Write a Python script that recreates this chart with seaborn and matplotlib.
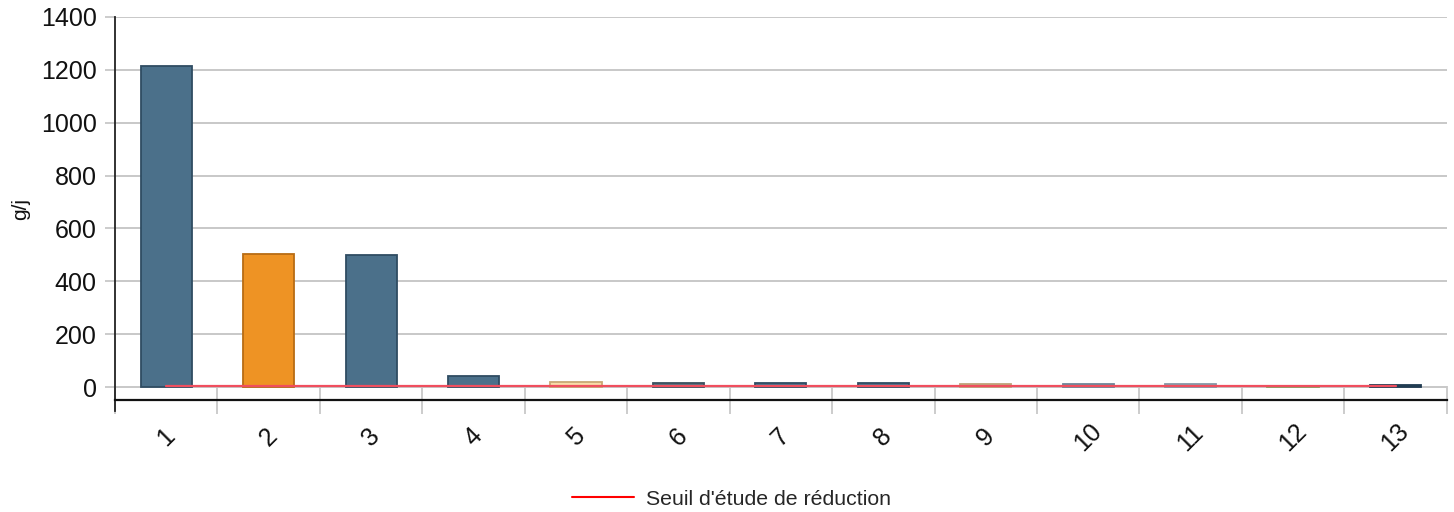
import matplotlib
matplotlib.use("Agg")
import matplotlib.pyplot as plt
from matplotlib.lines import Line2D
from matplotlib.ticker import FixedLocator, NullFormatter, FixedFormatter
import seaborn as sns
import pandas as pd
import numpy as np

categories = ["1", "2", "3", "4", "5", "6", "7", "8", "9", "10", "11", "12", "13"]
values = [1216, 503, 500, 40, 20, 16, 15, 14, 13, 11, 10, 5, 7]
threshold = [5] * 13
bar_colors = ["#4b708a", "#ee9324", "#4b708a", "#4b708a", "#f8dca8", "#56707f",
              "#4b708a", "#4b708a", "#dcc7a3", "#8ea6b8", "#a5b6c4", "#a8c083", "#34526a"]
edge_colors = ["#2f4c62", "#b86c14", "#2f4c62", "#2f4c62", "#c9a874", "#3a505e",
               "#2f4c62", "#2f4c62", "#bda47a", "#6d8597", "#8597a6", "#86a060", "#1f3a50"]
legend_label = "Seuil d'étude de réduction"
y_label = "g/j"

sns.set_theme(style="white")
plt.rcParams['font.family'] = ['Liberation Sans', 'DejaVu Sans']

fig = plt.figure(figsize=(14.54, 5.12), dpi=100)
ax = fig.add_axes([0.0791, 0.2187, 0.9159, 0.7481])

df = pd.DataFrame({"cat": categories, "val": values})
sns.barplot(data=df, x="cat", y="val", hue="cat", palette=bar_colors, legend=False,
            width=0.5, saturation=1, ax=ax, zorder=3)
for patch, ec in zip(ax.patches, edge_colors):
    patch.set_edgecolor(ec)
    patch.set_linewidth(1.3)

sns.lineplot(x=np.arange(len(categories)), y=threshold, color="#f04e5e", linewidth=1.6,
             ax=ax, zorder=4)

ax.set_xlim(-0.5, len(categories) - 0.5)
ax.set_ylim(-49, 1400)
ax.set_yticks([0, 200, 400, 600, 800, 1000, 1200, 1400])
ax.yaxis.grid(True, color="#c8c8c8", linewidth=1.4, zorder=0)
ax.set_axisbelow(True)
ax.tick_params(axis="y", which="major", left=True, length=7.2, width=1.3, color="#c8c8c8",
               pad=6, labelsize=18, labelcolor="#111111")

# x: boundary ticks (major) and centered rotated labels (minor)
ax.xaxis.set_major_locator(FixedLocator(np.arange(-0.5, len(categories), 1.0)))
ax.xaxis.set_major_formatter(NullFormatter())
ax.xaxis.set_minor_locator(FixedLocator(np.arange(len(categories))))
ax.xaxis.set_minor_formatter(FixedFormatter(categories))
ax.tick_params(axis="x", which="major", bottom=True, direction="inout", length=20,
               width=1.3, color="#c8c8c8")
ax.tick_params(axis="x", which="minor", bottom=True, length=0, pad=27, labelsize=18,
               labelcolor="#111111")
for lbl in ax.xaxis.get_minorticklabels():
    lbl.set_rotation(45)
    lbl.set_ha("center")
    lbl.set_va("center")

for s in ["top", "right"]:
    ax.spines[s].set_visible(False)
ax.spines["left"].set_color("#222222")
ax.spines["left"].set_linewidth(1.3)
ax.spines["bottom"].set_color("#111111")
ax.spines["bottom"].set_linewidth(1.6)
ax.spines["left"].set_bounds(-90, 1400)

ax.set_xlabel("")
ax.set_ylabel(y_label, fontsize=15, color="#111111", labelpad=8)

handle = Line2D([0], [0], color="red", linewidth=1.5)
fig.legend([handle], [legend_label], loc="center", bbox_to_anchor=(0.503, 0.025),
           frameon=False, fontsize=15.3, handlelength=2.9, handletextpad=0.56)

fig.savefig("out.png", dpi=100)
